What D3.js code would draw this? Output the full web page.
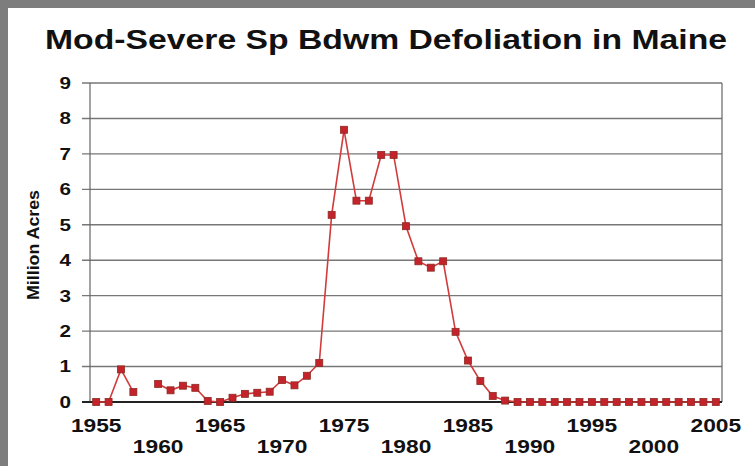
<!DOCTYPE html>
<html>
<head>
<meta charset="utf-8">
<script src="https://cdn.jsdelivr.net/npm/d3@7"></script>
<style>
  body { margin: 0; background: #fff; }
  svg { display: block; }
  text { font-family: "Liberation Sans", Arial, sans-serif; font-weight: bold; fill: #111; }
</style>
</head>
<body>
<script>
// Years on the category axis
const years = d3.range(1955, 2006);

// Million acres defoliated (null = no point)
const acres = [
  0, 0, 0.92, 0.28, null, 0.51, 0.33, 0.46, 0.4, 0.03,
  0, 0.12, 0.23, 0.26, 0.29, 0.62, 0.47, 0.74, 1.1, 5.28,
  7.68, 5.68, 5.68, 6.97, 6.97, 4.96, 3.97, 3.79, 3.97, 1.98,
  1.17, 0.59, 0.17, 0.04, 0, 0, 0, 0, 0, 0,
  0, 0, 0, 0, 0, 0, 0, 0, 0, 0, 0
];

const yTicks = [0, 1, 2, 3, 4, 5, 6, 7, 8, 9];
const xLabelYears = d3.range(1955, 2006, 5);

const data = years.map((y, i) => ({ year: y, value: acres[i] }));

const W = 755, H = 466;
const margin = { top: 83, right: 33, bottom: 64, left: 90 };
const width = W - margin.left - margin.right;
const height = H - margin.top - margin.bottom;

const svg = d3.select("body").append("svg")
  .attr("width", W)
  .attr("height", H);

// gray frame at top and left
svg.append("rect").attr("width", W).attr("height", H).attr("fill", "#7d7d7d");
svg.append("rect").attr("x", 8).attr("y", 8).attr("width", W - 8).attr("height", H - 8).attr("fill", "#fff");

// stretch text horizontally, the source font is wide
function stretch(sel, k) {
  sel.each(function () {
    const w = this.getComputedTextLength();
    d3.select(this).attr("textLength", w * k).attr("lengthAdjust", "spacingAndGlyphs");
  });
}

svg.append("text")
  .attr("x", 386)
  .attr("y", 49)
  .attr("text-anchor", "middle")
  .attr("font-size", 28)
  .attr("textLength", 682)
  .attr("lengthAdjust", "spacingAndGlyphs")
  .text("Mod-Severe Sp Bdwm Defoliation in Maine");

const g = svg.append("g")
  .attr("transform", `translate(${margin.left},${margin.top})`);

const x = d3.scalePoint()
  .domain(years)
  .range([0, width])
  .padding(0.5);

const y = d3.scaleLinear()
  .domain([0, 9])
  .range([height, 0]);

// gridlines with small ticks out to the left
g.append("g")
  .selectAll("line")
  .data(yTicks)
  .join("line")
  .attr("x1", -8)
  .attr("x2", width)
  .attr("y1", d => y(d))
  .attr("y2", d => y(d))
  .attr("stroke", "#777")
  .attr("stroke-width", 1.4);

// plot frame
g.append("line").attr("x1", 0).attr("x2", 0).attr("y1", 0).attr("y2", height)
  .attr("stroke", "#666").attr("stroke-width", 1.2);
g.append("line").attr("x1", width).attr("x2", width).attr("y1", 0).attr("y2", height)
  .attr("stroke", "#666").attr("stroke-width", 1.2);
g.append("line").attr("x1", -8).attr("x2", width).attr("y1", height).attr("y2", height)
  .attr("stroke", "#222").attr("stroke-width", 2.2);

// y tick labels
g.append("g")
  .selectAll("text")
  .data(yTicks)
  .join("text")
  .attr("x", -19)
  .attr("y", d => y(d))
  .attr("dy", "0.36em")
  .attr("text-anchor", "end")
  .attr("font-size", 16.5)
  .text(d => d)
  .call(stretch, 1.25);

// x tick labels, staggered on two rows
g.append("g")
  .selectAll("text")
  .data(xLabelYears)
  .join("text")
  .attr("x", d => x(d))
  .attr("y", (d, i) => height + (i % 2 === 0 ? 30 : 51))
  .attr("text-anchor", "middle")
  .attr("font-size", 17.5)
  .text(d => d)
  .call(stretch, 1.3);

// y axis title
svg.append("text")
  .attr("transform", "translate(39,245) rotate(-90)")
  .attr("text-anchor", "middle")
  .attr("font-size", 16)
  .attr("textLength", 110)
  .attr("lengthAdjust", "spacingAndGlyphs")
  .text("Million Acres");

// series line with a gap where there is no value
const line = d3.line()
  .defined(d => d.value !== null)
  .x(d => x(d.year))
  .y(d => y(d.value));

g.append("path")
  .datum(data)
  .attr("fill", "none")
  .attr("stroke", "#d23b3b")
  .attr("stroke-width", 1.6)
  .attr("d", line);

const s = 7;
g.append("g")
  .selectAll("rect")
  .data(data.filter(d => d.value !== null))
  .join("rect")
  .attr("x", d => x(d.year) - s / 2)
  .attr("y", d => y(d.value) - s / 2)
  .attr("width", s)
  .attr("height", s)
  .attr("fill", "#c4232b")
  .attr("stroke", "#8e2a22")
  .attr("stroke-width", 0.8);
</script>
</body>
</html>
